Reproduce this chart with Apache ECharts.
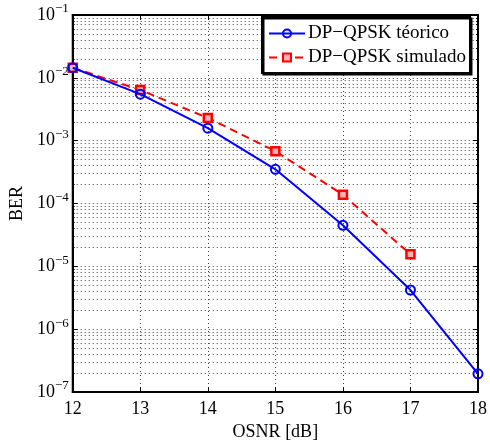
<!DOCTYPE html>
<html>
<head>
<meta charset="utf-8">
<script src="https://cdn.jsdelivr.net/npm/echarts@6/dist/echarts.min.js"></script>
<style>
  html, body { margin: 0; padding: 0; background: #fff; }
  #chart { width: 490px; height: 446px; }
</style>
</head>
<body>
<div id="chart"></div>
<script>
// OSNR values (dB) and measured / theoretical bit error rates
const osnr = [12, 13, 14, 15, 16, 17, 18];
const berTeorico = [1.45e-2, 5.5e-3, 1.58e-3, 3.5e-4, 4.5e-5, 4.2e-6, 1.95e-7];
const berSimulado = [1.45e-2, 6.4e-3, 2.3e-3, 6.8e-4, 1.38e-4, 1.55e-5];
const seriesNames = ['DP\u2212QPSK t\u00e9orico', 'DP\u2212QPSK simulado'];
const xTitle = 'OSNR [dB]';
const yTitle = 'BER';

const FONT = 'Liberation Serif';
const dotted = { color: '#444', width: 1, type: [1, 3] };

function expLabel(v) {
  const e = Math.round(Math.log10(v));
  return '{b|10}{e|' + (e < 0 ? '\u2212' : '') + Math.abs(e) + '}';
}

const chart = echarts.init(document.getElementById('chart'), null, { renderer: 'canvas' });
chart.setOption({
  animation: false,
  backgroundColor: '#fff',
  textStyle: { fontFamily: FONT },
  grid: { left: 69, top: 15, right: 10, bottom: 50, show: true, borderColor: '#000', borderWidth: 2, backgroundColor: 'transparent' },
  legend: {
    orient: 'vertical',
    left: 262, top: 17,
    padding: [7, 4, 6, 6],
    itemGap: 5,
    itemWidth: 36, itemHeight: 10,
    backgroundColor: '#fff',
    borderColor: '#000', borderWidth: 2,
    shadowColor: '#000', shadowOffsetX: 1.5, shadowOffsetY: 1.5, shadowBlur: 0,
    textStyle: {
      fontFamily: FONT, fontSize: 19, color: '#000', padding: [0, 0, 0, -2],
      rich: { t: { fontFamily: FONT, fontSize: 19, color: '#000' } }
    },
    formatter: name => '{t|' + name + '}',
    data: seriesNames
  },
  xAxis: [{
    type: 'value', min: 12, max: 18, interval: 1,
    name: xTitle, nameLocation: 'middle', nameGap: 31,
    nameTextStyle: { fontFamily: FONT, fontSize: 18, color: '#000' },
    axisLine: { lineStyle: { color: '#000', width: 2 } },
    axisTick: { inside: true, length: 5, lineStyle: { color: '#000', width: 1 } },
    axisLabel: { fontFamily: FONT, fontSize: 18, color: '#000', margin: 8 },
    splitLine: { show: true, lineStyle: dotted }
  }, {
    type: 'value', position: 'top', min: 12, max: 18, interval: 1,
    axisLine: { lineStyle: { color: '#000', width: 2 } },
    axisTick: { inside: true, length: 5, lineStyle: { color: '#000', width: 1 } },
    axisLabel: { show: false }, splitLine: { show: false }
  }],
  yAxis: [{
    type: 'log', logBase: 10, min: 1e-7, max: 1e-1,
    name: yTitle, nameLocation: 'middle', nameGap: 45,
    nameTextStyle: { fontFamily: FONT, fontSize: 18, color: '#000' },
    axisLine: { lineStyle: { color: '#000', width: 2 } },
    axisTick: { inside: true, length: 5, lineStyle: { color: '#000', width: 1 } },
    minorTick: { show: true, splitNumber: 9, length: 2, lineStyle: { color: '#000', width: 1 } },
    minorSplitLine: { show: true, lineStyle: dotted },
    axisLabel: {
      margin: 4,
      formatter: expLabel,
      rich: {
        b: { fontFamily: FONT, fontSize: 18, color: '#000' },
        e: { fontFamily: FONT, fontSize: 13, color: '#000', padding: [0, 0, 12, 0] }
      }
    },
    splitLine: { show: true, lineStyle: dotted }
  }, {
    type: 'log', logBase: 10, min: 1e-7, max: 1e-1, position: 'right',
    axisLine: { lineStyle: { color: '#000', width: 2 } },
    axisTick: { inside: true, length: 5, lineStyle: { color: '#000', width: 1 } },
    minorTick: { show: true, splitNumber: 9, length: 2, lineStyle: { color: '#000', width: 1 } },
    axisLabel: { show: false }, splitLine: { show: false }
  }],
  series: [{
    name: seriesNames[0],
    type: 'line',
    data: osnr.map((x, i) => [x, berTeorico[i]]),
    symbol: 'circle', symbolSize: 9,
    lineStyle: { color: '#0000ff', width: 2 },
    itemStyle: { color: 'rgba(255,255,255,0)', borderColor: '#0000ff', borderWidth: 2 },
    z: 4
  }, {
    name: seriesNames[1],
    type: 'line',
    data: osnr.slice(0, berSimulado.length).map((x, i) => [x, berSimulado[i]]),
    symbol: 'rect', symbolSize: 8,
    lineStyle: { color: '#ff0000', width: 2, type: [8, 5] },
    itemStyle: { color: '#ffb0b0', borderColor: '#ff0000', borderWidth: 2.5 },
    z: 3
  }]
});
</script>
</body>
</html>
